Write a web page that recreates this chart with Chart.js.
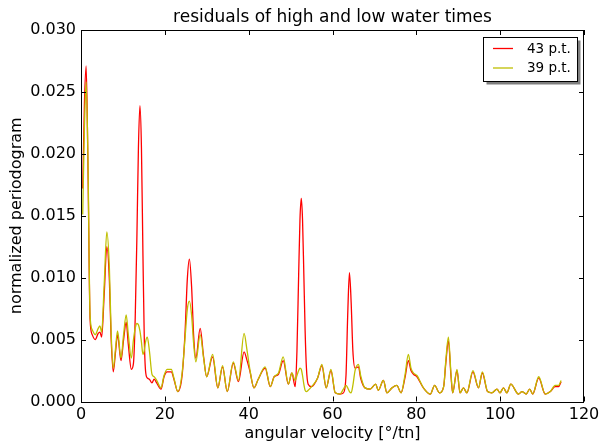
<!DOCTYPE html>
<html>
<head>
<meta charset="utf-8">
<script src="https://cdn.jsdelivr.net/npm/chart.js@4.4.1/dist/chart.umd.min.js"></script>
<style>
  html, body { margin: 0; padding: 0; background: #fff; }
  #wrap { width: 601px; height: 443px; }
</style>
</head>
<body>
<div id="wrap"><canvas id="chart" width="601" height="443"></canvas></div>
<script>
// ================= DATA =================
const omega = [
  0.41, 0.82, 1.23, 1.64, 2.16, 2.67, 3.39, 4.11, 4.52, 4.93, 5.54, 6.16, 6.77, 7.18, 7.70, 8.21, 8.72, 9.54, 10.16, 10.78,
  11.29, 12.01, 12.52, 12.93, 13.34, 13.70, 14.06, 14.42, 14.78, 15.09, 15.39, 15.81, 16.32, 16.93, 17.45, 18.06, 19.09, 19.81, 20.53, 21.55,
  22.17, 23.09, 24.12, 24.84, 25.35, 25.86, 26.38, 26.89, 27.40, 28.43, 29.25, 29.97, 31.40, 32.64, 33.77, 34.89, 36.33, 37.56, 38.90, 39.62,
  40.33, 41.26, 42.28, 43.93, 45.16, 46.08, 47.11, 48.24, 49.47, 50.29, 51.11, 51.52, 51.93, 52.24, 52.55, 52.85, 53.16, 53.47, 53.78, 54.19,
  55.01, 56.45, 57.47, 58.50, 59.63, 60.65, 61.78, 62.60, 63.22, 63.63, 64.04, 64.45, 64.86, 65.38, 66.20, 66.71, 67.74, 68.97, 70.30, 70.92,
  72.15, 72.97, 74.20, 75.33, 76.36, 77.28, 78.10, 78.72, 79.33, 80.15, 81.69, 83.34, 84.36, 85.49, 86.52, 87.03, 87.65, 88.26, 88.67, 89.70,
  90.42, 91.24, 92.06, 93.50, 94.83, 95.75, 96.99, 98.01, 99.24, 99.96, 100.78, 101.60, 102.53, 104.37, 105.20, 106.22, 107.04, 107.76, 109.20, 110.74,
  111.97, 113.10, 113.92, 114.54
];

const p43 = [
  .0172, .0241, .0271, .0195, .0067, .0054, .0050, .0055, .0056, .0052, .0087, .0125, .0098, .0052, .0024, .0039, .0054, .0033, .0050, .0064,
  .0046, .0026, .0031, .0067, .0134, .0205, .0239, .0205, .0118, .0052, .0025, .0019, .0018, .0015, .0018, .0015, .0010, .0020, .0024, .0024,
  .0018, .0008, .0021, .0057, .0098, .0115, .0093, .0052, .0035, .0059, .0036, .0020, .0036, .0011, .0028, .0008, .0031, .0016, .0040, .0033,
  .0024, .0011, .0018, .0027, .0012, .0020, .0022, .0033, .0014, .0023, .0012, .0041, .0103, .0147, .0164, .0147, .0103, .0057, .0027, .0014,
  .0012, .0019, .0029, .0011, .0025, .0007, .0006, .0007, .0021, .0070, .0104, .0080, .0041, .0027, .0028, .0019, .0011, .0010, .0014, .0009,
  .0017, .0007, .0011, .0013, .0007, .0019, .0033, .0025, .0022, .0020, .0011, .0006, .0013, .0007, .0012, .0031, .0049, .0021, .0007, .0025,
  .0007, .0011, .0007, .0024, .0011, .0023, .0008, .0007, .0010, .0007, .0011, .0007, .0014, .0006, .0008, .0006, .0010, .0006, .0019, .0006,
  .0008, .0012, .0012, .0016
];

const p39 = [
  .0151, .0221, .0258, .0200, .0070, .0058, .0054, .0059, .0061, .0056, .0095, .0137, .0108, .0057, .0027, .0042, .0057, .0035, .0054, .0070,
  .0054, .0035, .0050, .0059, .0063, .0062, .0057, .0048, .0038, .0041, .0048, .0052, .0041, .0022, .0020, .0017, .0011, .0021, .0026, .0026,
  .0019, .0008, .0023, .0052, .0074, .0081, .0070, .0046, .0032, .0054, .0035, .0020, .0038, .0011, .0029, .0008, .0032, .0017, .0055, .0041,
  .0025, .0011, .0018, .0028, .0012, .0020, .0023, .0036, .0014, .0023, .0017, .0021, .0025, .0027, .0026, .0021, .0014, .0009, .0008, .0009,
  .0012, .0019, .0030, .0011, .0026, .0007, .0006, .0010, .0013, .0011, .0008, .0007, .0013, .0025, .0030, .0021, .0011, .0010, .0014, .0009,
  .0017, .0007, .0011, .0013, .0007, .0021, .0038, .0027, .0023, .0021, .0011, .0006, .0013, .0007, .0012, .0033, .0052, .0023, .0007, .0026,
  .0007, .0011, .0007, .0025, .0011, .0024, .0008, .0007, .0010, .0007, .0011, .0007, .0014, .0006, .0008, .0006, .0010, .0006, .0020, .0006,
  .0008, .0013, .0013, .0017
];

const seriesLabels = ["43 p.t.", "39 p.t."];
const xTicks = [0, 20, 40, 60, 80, 100, 120];
const yTicks = [0, 0.005, 0.010, 0.015, 0.020, 0.025, 0.030];
const chartTitle = "residuals of high and low water times";

const FONT = "'DejaVu Sans', sans-serif";

// ================= PLUGIN: frame, inward ticks, title, legend =================
const framePlugin = {
  id: "frame",
  afterDraw(chart) {
    const { ctx, chartArea: a, scales } = chart;
    ctx.save();
    ctx.strokeStyle = "#000";
    ctx.lineWidth = 1;
    ctx.strokeRect(Math.round(a.left) + 0.5, Math.round(a.top) + 0.5,
      Math.round(a.right - a.left) - 1, Math.round(a.bottom - a.top));

    const tl = 5;
    ctx.beginPath();
    xTicks.forEach(v => {
      const px = Math.round(scales.x.getPixelForValue(v)) + 0.5;
      ctx.moveTo(px, a.bottom); ctx.lineTo(px, a.bottom - tl);
      ctx.moveTo(px, a.top); ctx.lineTo(px, a.top + tl);
    });
    yTicks.forEach(v => {
      const py = Math.round(scales.y.getPixelForValue(v)) + 0.5;
      ctx.moveTo(a.left, py); ctx.lineTo(a.left + tl, py);
      ctx.moveTo(a.right, py); ctx.lineTo(a.right - tl, py);
    });
    ctx.stroke();

    // title over the plot
    ctx.fillStyle = "#000";
    ctx.font = "17px " + FONT;
    ctx.textAlign = "center";
    ctx.textBaseline = "middle";
    ctx.fillText(chartTitle, (a.left + a.right) / 2, 18);

    // legend box with shadow
    const bx = 483.5, by = 37.5, bw = 94, bh = 44;
    ctx.fillStyle = "rgba(0,0,0,0.5)";
    ctx.fillRect(bx + 3, by + 3, bw, bh);
    ctx.fillStyle = "#fff";
    ctx.fillRect(bx, by, bw, bh);
    ctx.strokeStyle = "#000";
    ctx.strokeRect(bx, by, bw, bh);

    ctx.font = "13.5px " + FONT;
    ctx.textAlign = "left";
    const rows = [48.5, 68];
    chart.data.datasets.forEach((ds, i) => {
      ctx.strokeStyle = ds.borderColor;
      ctx.lineWidth = 1.3;
      ctx.beginPath();
      ctx.moveTo(493, rows[i]); ctx.lineTo(513, rows[i]);
      ctx.stroke();
      ctx.fillStyle = "#000";
      ctx.fillText(ds.label, 527, rows[i] + 0.5);
    });
    ctx.restore();
  }
};

// ================= CHART =================
const ctx = document.getElementById("chart");

new Chart(ctx, {
  type: "line",
  data: {
    datasets: [
      {
        label: seriesLabels[0],
        data: omega.map((x, i) => ({ x, y: p43[i] })),
        borderColor: "#ff0000",
        borderWidth: 1.3,
        pointRadius: 0,
        cubicInterpolationMode: "monotone",
        order: 1
      },
      {
        label: seriesLabels[1],
        data: omega.map((x, i) => ({ x, y: p39[i] })),
        borderColor: "#bfbf00",
        borderWidth: 1.3,
        pointRadius: 0,
        cubicInterpolationMode: "monotone",
        order: 0
      }
    ]
  },
  options: {
    responsive: false,
    animation: false,
    events: [],
    layout: { padding: { left: 0, right: 17, top: 30, bottom: 0 } },
    plugins: {
      legend: { display: false },
      tooltip: { enabled: false },
      title: { display: false }
    },
    scales: {
      x: {
        type: "linear",
        min: 0, max: 120,
        afterBuildTicks: s => { s.ticks = xTicks.map(v => ({ value: v })); },
        afterFit: s => { s.height = 41.5; s.paddingLeft = 0; s.paddingRight = 0; },
        grid: { display: false, drawTicks: false },
        border: { display: false },
        ticks: {
          color: "#000",
          padding: 4,
          maxRotation: 0,
          font: { family: FONT, size: 16 }
        },
        title: {
          display: true,
          text: "angular velocity [°/tn]",
          color: "#000",
          font: { family: FONT, size: 16, lineHeight: 1.2 },
          padding: 0
        }
      },
      y: {
        min: 0, max: 0.03,
        afterBuildTicks: s => { s.ticks = yTicks.map(v => ({ value: v })); },
        afterFit: s => { s.width = 81; s.paddingTop = 0; s.paddingBottom = 0; },
        grid: { display: false, drawTicks: false },
        border: { display: false },
        ticks: {
          color: "#000",
          padding: 5,
          font: { family: FONT, size: 16 },
          callback: v => v.toFixed(3)
        },
        title: {
          display: true,
          text: "normalized periodogram",
          color: "#000",
          font: { family: FONT, size: 16, lineHeight: 1.2 },
          padding: { top: 7, bottom: 0 }
        }
      }
    }
  },
  plugins: [framePlugin]
});
</script>
</body>
</html>
